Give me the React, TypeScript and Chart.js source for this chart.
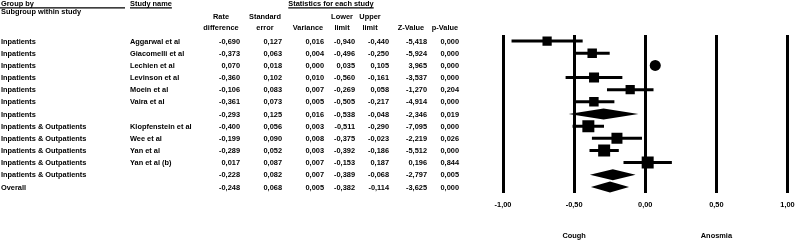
import React, { useEffect, useRef } from 'react';
import { Chart, registerables } from 'chart.js';

Chart.register(...registerables);

// ---- data ----
const groupLabels = [
  'Inpatients', 'Inpatients', 'Inpatients', 'Inpatients', 'Inpatients', 'Inpatients', 'Inpatients',
  'Inpatients & Outpatients', 'Inpatients & Outpatients', 'Inpatients & Outpatients',
  'Inpatients & Outpatients', 'Inpatients & Outpatients', 'Overall',
];
const studyNames = [
  'Aggarwal et al', 'Giacomelli et al', 'Lechien et al', 'Levinson et al', 'Moein et al', 'Vaira et al', '',
  'Klopfenstein et al', 'Wee et al', 'Yan et al', 'Yan et al (b)', '', '',
];
const rowKind = [
  'study', 'study', 'study', 'study', 'study', 'study', 'summary',
  'study', 'study', 'study', 'study', 'summary', 'summary',
];
const rateDiff = [-0.690, -0.373, 0.070, -0.360, -0.106, -0.361, -0.293, -0.400, -0.199, -0.289, 0.017, -0.228, -0.248];
const stdErr = [0.127, 0.063, 0.018, 0.102, 0.083, 0.073, 0.125, 0.056, 0.090, 0.052, 0.087, 0.082, 0.068];
const variance = [0.016, 0.004, 0.000, 0.010, 0.007, 0.005, 0.016, 0.003, 0.008, 0.003, 0.007, 0.007, 0.005];
const lowerLimit = [-0.940, -0.496, 0.035, -0.560, -0.269, -0.505, -0.538, -0.511, -0.375, -0.392, -0.153, -0.389, -0.382];
const upperLimit = [-0.440, -0.250, 0.105, -0.161, 0.058, -0.217, -0.048, -0.290, -0.023, -0.186, 0.187, -0.068, -0.114];
const zValue = [-5.418, -5.924, 3.965, -3.537, -1.270, -4.914, -2.346, -7.095, -2.219, -5.512, 0.196, -2.797, -3.625];
const pValue = [0.000, 0.000, 0.000, 0.000, 0.204, 0.000, 0.019, 0.000, 0.026, 0.000, 0.844, 0.005, 0.000];
// relative weight of each study (marker size)
const relWeight = [8.4, 8.6, 10.0, 9.1, 8.4, 8.6, 0, 10.9, 10.0, 10.9, 10.9, 0, 0];
const markerShape = ['rect', 'rect', 'circle', 'rect', 'rect', 'rect', '', 'rect', 'rect', 'rect', 'rect', '', ''];
const xTicks = [-1, -0.5, 0, 0.5, 1];
const favourLabels = ['Cough', 'Anosmia'];
const favourAt = [-0.5, 0.5];

const FONT_FAMILY = '"Liberation Sans", Arial, Helvetica, sans-serif';
const FONT = `bold 7.4px ${FONT_FAMILY}`;
const fmt = (v: number, d: number) => v.toFixed(d).replace('.', ',');

const tablePlugin = {
  id: 'forestTable',
  afterDatasetsDraw(chart: any) {
    const ctx = chart.ctx;
    const xs = chart.scales.x;
    const ys = chart.scales.y;
    ctx.save();
    ctx.fillStyle = '#000';
    // summary diamonds
    rowKind.forEach((k, i) => {
      if (k !== 'summary') return;
      const y = ys.getPixelForValue(i);
      const h = 5.5;
      ctx.beginPath();
      ctx.moveTo(xs.getPixelForValue(lowerLimit[i]), y);
      ctx.lineTo(xs.getPixelForValue(rateDiff[i]), y - h);
      ctx.lineTo(xs.getPixelForValue(upperLimit[i]), y);
      ctx.lineTo(xs.getPixelForValue(rateDiff[i]), y + h);
      ctx.closePath();
      ctx.fill();
    });
    ctx.restore();
  },
  afterDraw(chart: any) {
    const ctx = chart.ctx;
    const xs = chart.scales.x;
    const ys = chart.scales.y;
    ctx.save();
    ctx.fillStyle = '#000';
    ctx.strokeStyle = '#000';
    ctx.font = FONT;
    ctx.textBaseline = 'alphabetic';

    // headers
    ctx.textAlign = 'left';
    ctx.fillText('Group by', 1, 6);
    ctx.fillText('Subgroup within study', 1, 14);
    ctx.fillText('Study name', 130, 6);
    ctx.lineWidth = 1.2;
    ctx.beginPath();
    ctx.moveTo(0, 7.8); ctx.lineTo(125, 7.8);
    const snW = ctx.measureText('Study name').width;
    ctx.moveTo(130, 7.8); ctx.lineTo(130 + snW, 7.8);
    ctx.stroke();
    ctx.textAlign = 'center';
    ctx.fillText('Statistics for each study', 331, 6);
    const stW = ctx.measureText('Statistics for each study').width;
    ctx.beginPath();
    ctx.moveTo(331 - stW / 2, 7.8); ctx.lineTo(331 + stW / 2, 7.8);
    ctx.stroke();

    const cols = [
      { h: ['Rate', 'difference'], c: 221, r: 240, v: rateDiff, d: 3 },
      { h: ['Standard', 'error'], c: 265, r: 282, v: stdErr, d: 3 },
      { h: ['', 'Variance'], c: 308, r: 324, v: variance, d: 3 },
      { h: ['Lower', 'limit'], c: 342, r: 355, v: lowerLimit, d: 3 },
      { h: ['Upper', 'limit'], c: 370, r: 389, v: upperLimit, d: 3 },
      { h: ['', 'Z-Value'], c: 411, r: 427, v: zValue, d: 3 },
      { h: ['', 'p-Value'], c: 445, r: 459, v: pValue, d: 3 },
    ];
    cols.forEach((col) => {
      ctx.textAlign = 'center';
      if (col.h[0]) ctx.fillText(col.h[0], col.c, 19);
      ctx.fillText(col.h[1], col.c, 29.5);
    });

    groupLabels.forEach((g, i) => {
      const y = ys.getPixelForValue(i) + 2.6;
      ctx.textAlign = 'left';
      ctx.fillText(g, 1, y);
      if (studyNames[i]) ctx.fillText(studyNames[i], 130, y);
      ctx.textAlign = 'right';
      cols.forEach((col) => ctx.fillText(fmt(col.v[i], col.d), col.r, y));
    });

    // favours labels
    ctx.textAlign = 'center';
    favourLabels.forEach((t, i) => {
      ctx.fillText(t, xs.getPixelForValue(favourAt[i]), 238);
    });
    ctx.restore();
  },
};

export default function App() {
  const ref = useRef<HTMLCanvasElement | null>(null);
  useEffect(() => {
    if (!ref.current) return;
    const studyIdx = rowKind.map((k, i) => (k === 'study' ? i : -1)).filter((i) => i >= 0);
    const ciSets = studyIdx.map((i) => ({
      type: 'scatter' as const,
      showLine: true,
      data: [{ x: lowerLimit[i], y: i }, { x: upperLimit[i], y: i }],
      borderColor: '#000',
      borderWidth: 3,
      borderCapStyle: 'butt',
      pointRadius: 0,
      order: 2,
    }));
    const markers = {
      type: 'scatter' as const,
      data: studyIdx.map((i) => ({ x: rateDiff[i], y: i })),
      pointStyle: studyIdx.map((i) => markerShape[i]),
      pointRadius: studyIdx.map((i) => {
        const side = relWeight[i] * 1.1;
        return markerShape[i] === 'circle' ? side / 2 : side / Math.SQRT2;
      }),
      backgroundColor: '#000',
      borderWidth: 0,
      order: 1,
    };
    const chart = new Chart(ref.current, {
      type: 'scatter',
      data: { datasets: [markers, ...ciSets] as any },
      options: {
        animation: false,
        responsive: false,
        devicePixelRatio: 1,
        layout: { padding: { left: 503, right: 8, top: 35, bottom: 0 } },
        plugins: { legend: { display: false }, tooltip: { enabled: false } },
        scales: {
          x: {
            type: 'linear',
            min: xTicks[0],
            max: xTicks[xTicks.length - 1],
            afterBuildTicks: (s: any) => { s.ticks = xTicks.map((v) => ({ value: v })); },
            afterFit: (s: any) => { s.height = 47; s.paddingLeft = 0; s.paddingRight = 0; },
            ticks: {
              maxRotation: 0,
              autoSkip: false,
              padding: 8,
              color: '#000',
              font: { family: FONT_FAMILY, size: 7.4, weight: 'bold' },
              callback: (v: any) => fmt(Number(v), 2),
            },
            grid: { color: '#000', lineWidth: 3, drawTicks: false },
            border: { display: false },
          },
          y: {
            type: 'linear',
            min: -0.5,
            max: rowKind.length - 0.5,
            reverse: true,
            display: false,
          },
        },
      } as any,
      plugins: [tablePlugin],
    });
    return () => chart.destroy();
  }, []);
  return (
    <div style={{ position: 'fixed', left: 0, top: 0, width: 796, height: 240, background: '#fff' }}>
      <canvas ref={ref} width={796} height={240} style={{ display: 'block' }} />
    </div>
  );
}
